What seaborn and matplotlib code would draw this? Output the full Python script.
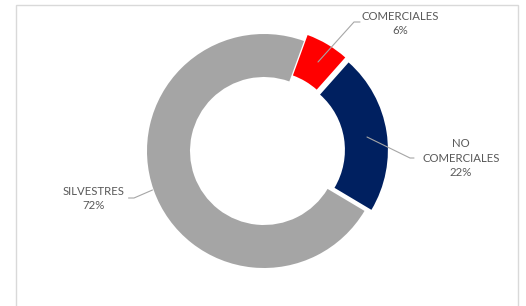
import matplotlib
matplotlib.use("Agg")
import matplotlib.pyplot as plt
import seaborn as sns
from matplotlib.patches import Rectangle

sns.set_theme(style="white")
plt.rcParams['font.family'] = ['Lato', 'DejaVu Sans']

categories = ["COMERCIALES", "NO\nCOMERCIALES", "SILVESTRES"]
values = [6, 22, 72]
colors = ["#FF0000", "#002060", "#A5A5A5"]

W, H = 526, 306
fig = plt.figure(figsize=(W / 100, H / 100), dpi=100)
ax = fig.add_axes([0, 0, 1, 1])

cx, cy, R = 264, 306 - 151, 117
ax.pie(values, colors=colors, startangle=70, counterclock=False,
       explode=[7, 7, 0], center=(cx, cy), radius=R,
       wedgeprops=dict(width=43, linewidth=0))
ax.set_xlim(0, W)
ax.set_ylim(0, H)
ax.set_aspect('equal')
ax.axis('off')

# frame
ax.add_patch(Rectangle((15.5, -10), 502.5, 306 - 4.5 + 10, fill=False,
                       edgecolor="#D9D9D9", linewidth=1.0))

txt_color = "#595959"
line_color = "#A6A6A6"
fs = 8.2

def y(v):
    return 306 - v

labels = [f"{c}\n{v}%" for c, v in zip(categories, values)]
ax.text(400, y(23.5), labels[0], ha='center', va='center', fontsize=fs,
        color=txt_color, linespacing=1.35)
ax.plot([318, 354, 360], [y(62), y(22), y(22)], color=line_color, lw=0.8)

ax.text(461, y(158), labels[1], ha='center', va='center', fontsize=fs,
        color=txt_color, linespacing=1.35)
ax.plot([367, 410, 414], [y(137), y(158), y(158)], color=line_color, lw=0.8)

ax.text(94, y(198.5), labels[2], ha='center', va='center', fontsize=fs,
        color=txt_color, linespacing=1.35)
ax.plot([128.5, 134, 152.5], [y(198), y(198), y(190)], color=line_color, lw=0.8)

fig.savefig("out.png", dpi=100)
